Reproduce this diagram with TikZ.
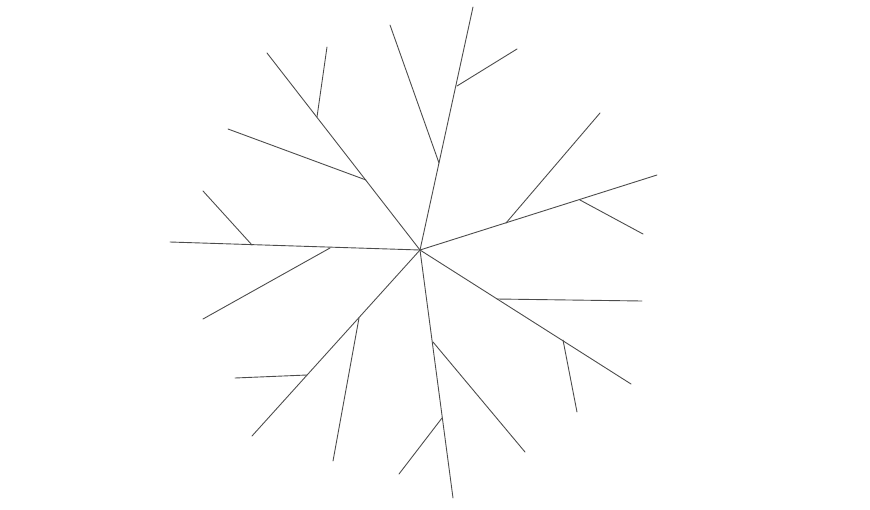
\documentclass[tikz,border=0pt]{standalone}
\begin{document}
\begin{tikzpicture}[x=1pt,y=-1pt,
  arm/.style={draw=black!70,line width=0.9pt,line cap=round}]
\useasboundingbox (0,0) rectangle (870,509);
% centre
\coordinate (c) at (420,250);
% arm 1: up
\coordinate (a1) at (473,7);
\coordinate (a1b1) at (439,163); \coordinate (a1t1) at (390,25);
\coordinate (a1b2) at (457,86);  \coordinate (a1t2) at (517,49);
% arm 2: up-left
\coordinate (a2) at (267,53);
\coordinate (a2b1) at (366,180); \coordinate (a2t1) at (228,129);
\coordinate (a2b2) at (317,117); \coordinate (a2t2) at (327,47);
% arm 3: left
\coordinate (a3) at (170,242);
\coordinate (a3b1) at (330,248); \coordinate (a3t1) at (203,319);
\coordinate (a3b2) at (252,245); \coordinate (a3t2) at (203,191);
% arm 4: down-left
\coordinate (a4) at (252,436);
\coordinate (a4b1) at (359,318); \coordinate (a4t1) at (333,461);
\coordinate (a4b2) at (307,375); \coordinate (a4t2) at (235,378);
% arm 5: down
\coordinate (a5) at (453,498);
\coordinate (a5b1) at (433,342); \coordinate (a5t1) at (525,452);
\coordinate (a5b2) at (442,418); \coordinate (a5t2) at (399,474);
% arm 6: down-right
\coordinate (a6) at (631,384);
\coordinate (a6b1) at (497,299); \coordinate (a6t1) at (642,301);
\coordinate (a6b2) at (563,340); \coordinate (a6t2) at (577,412);
% arm 7: right
\coordinate (a7) at (657,175);
\coordinate (a7b1) at (506,223); \coordinate (a7t1) at (600,113);
\coordinate (a7b2) at (580,200); \coordinate (a7t2) at (643,234);
\foreach \i in {1,...,7}{
  \draw[arm] (c) -- (a\i);
  \draw[arm] (a\i b1) -- (a\i t1);
  \draw[arm] (a\i b2) -- (a\i t2);
}
\end{tikzpicture}
\end{document}
